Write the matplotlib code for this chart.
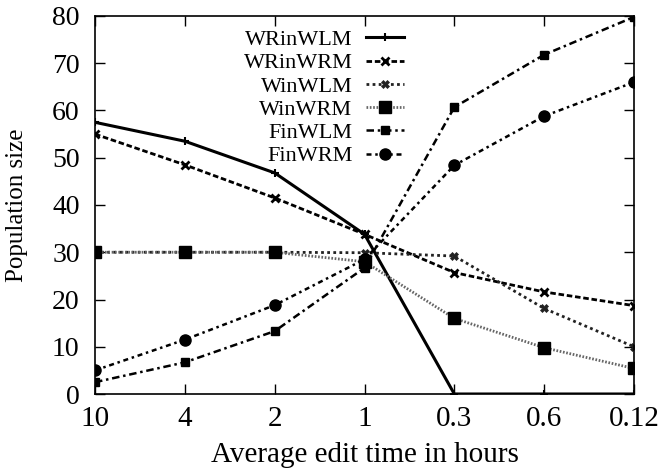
import matplotlib
matplotlib.use("Agg")
import matplotlib.pyplot as plt

plt.rcParams['font.family'] = ['Liberation Serif', 'DejaVu Serif']

x_labels = ['10', '4', '2', '1', '0.3', '0.6', '0.12']
WRinWLM = [57.5, 53.5, 46.8, 33.8, 0, 0, 0]
WRinWRM = [55.0, 48.5, 41.5, 33.8, 25.7, 21.6, 18.7]
WinWLM = [30.0, 30.0, 30.0, 29.9, 29.2, 18.1, 10.0]
WinWRM = [30.0, 30.0, 30.0, 28.0, 16.0, 9.8, 5.4]
FinWLM = [2.5, 6.7, 13.3, 26.7, 60.7, 71.8, 79.8]
FinWRM = [5.0, 11.5, 18.8, 28.5, 48.4, 58.8, 66.0]

fig = plt.figure(figsize=(6.61, 4.69), dpi=100)
ax = fig.add_axes([95/661, 1-394/469, (634-95)/661, (394-16)/469])
xs = list(range(len(x_labels)))

ax.plot(xs, WRinWLM, color='black', lw=2.2, ls='-', marker='+', ms=6, mew=1.5, label='WRinWLM')
ax.plot(xs, WRinWRM, color='black', lw=2.0, ls=(0, (2.0, 1.0)), marker='x', ms=6, mew=2, label='WRinWRM')
ax.plot(xs, WinWLM, color='#222222', lw=2.0, ls=(0, (1, 1.2)), marker='X', ms=6, mew=0.5, label='WinWLM')
ax.plot(xs, WinWRM, color='#666666', lw=2.0, ls=(0, (0.6, 0.6)), marker='s', ms=9, mfc='black', mec='black', label='WinWRM')
ax.plot(xs, FinWLM, color='black', lw=1.8, ls=(0, (3, 1.5, 1, 1.5)), marker='s', ms=6, label='FinWLM')
ax.plot(xs, FinWRM, color='black', lw=1.8, ls=(0, (2, 1.5, 1, 1.5)), marker='o', ms=8, label='FinWRM')

ax.set_xlim(0, 6)
ax.set_ylim(0, 80)
ax.set_xticks(xs)
ax.set_xticklabels(x_labels)
ax.set_yticks(range(0, 81, 10))
ax.tick_params(direction='in', top=True, right=True, labelsize=20, length=7, width=1)
ax.tick_params(axis='y', pad=11)
ax.tick_params(axis='x', pad=9, labelsize=21)
for s in ax.spines.values():
    s.set_linewidth(1.2)
ax.set_ylabel('Population size', fontsize=18, labelpad=17)
ax.set_xlabel('Average edit time in hours', fontsize=21, labelpad=7)

leg = ax.legend(loc='upper left', bbox_to_anchor=(0.247, 1.005), frameon=False, markerfirst=False,
                fontsize=16, handlelength=1.7, handletextpad=0.6, labelspacing=0.12, borderpad=0.2)
for t in leg.get_texts():
    t.set_ha('right')
leg._legend_box.align = 'right'

fig.savefig('out.png', dpi=100)
